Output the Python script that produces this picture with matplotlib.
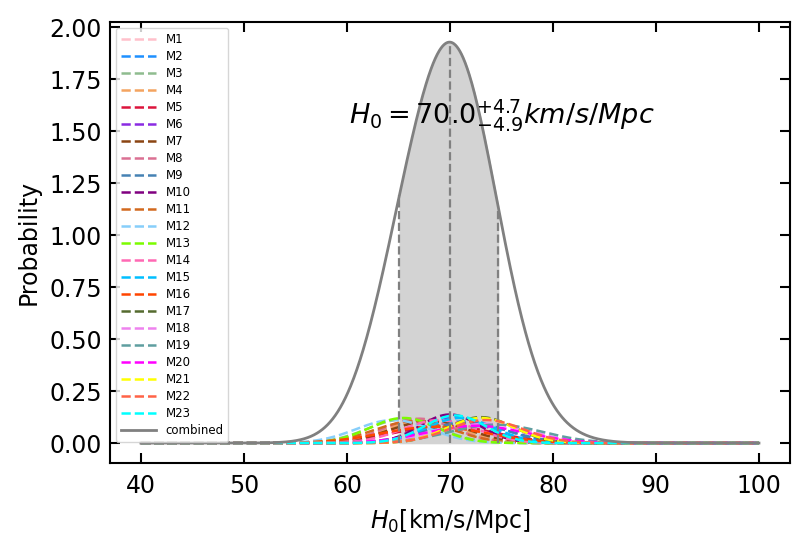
import numpy as np
import matplotlib
matplotlib.use('Agg')
import matplotlib.pyplot as plt

# individual model posteriors (gaussian centre / width)
models = ['M%d' % i for i in range(1, 24)]
mu = [68.5, 71.5, 65.5, 67.5, 69.5, 70.5, 68.0, 67.0, 71.5, 70.0, 66.5, 64.5,
      65.5, 69.0, 71.0, 68.5, 73.0, 73.5, 74.5, 72.5, 73.0, 73.5, 70.5]
sigma = [4.3, 3.8, 3.5, 3.5, 4.8, 3.2, 3.8, 3.4, 4.1, 2.9, 3.8, 3.6,
         3.3, 3.6, 3.3, 5.1, 3.2, 4.3, 4.5, 4.8, 3.3, 3.6, 3.0]
colors = ['pink', 'dodgerblue', 'darkseagreen', 'sandybrown', 'crimson', 'blueviolet',
          'saddlebrown', 'palevioletred', 'steelblue', 'purple', 'chocolate', 'lightskyblue',
          'lawngreen', 'hotpink', 'deepskyblue', 'orangered', 'darkolivegreen', 'violet',
          'cadetblue', 'magenta', 'yellow', 'tomato', 'cyan']

# reported combined result
h0_med = 70.0
h0_up = 4.7
h0_lo = 4.9

plt.rcParams['font.family'] = ['DejaVu Sans']
plt.rcParams['mathtext.fontset'] = 'dejavusans'

x = np.linspace(40, 100, 1200)
fig = plt.figure(figsize=(8.06, 5.52), dpi=100)
ax = fig.add_axes([0.1365, 0.161, 0.8435, 0.799])

combined = np.zeros_like(x)
for name, m, s, c in zip(models, mu, sigma, colors):
    pdf = np.exp(-0.5 * ((x - m) / s) ** 2) / (s * np.sqrt(2 * np.pi))
    combined += pdf
    ax.plot(x, pdf, '--', color=c, lw=1.8, label=name)

ax.plot(x, combined, '-', color='gray', lw=2, label='combined')

lo, hi = h0_med - h0_lo, h0_med + h0_up
ax.fill_between(x, 0, combined, where=(x >= lo) & (x <= hi), color='lightgray', zorder=0)
for xv in [lo, h0_med, hi]:
    ax.vlines(xv, 0, np.interp(xv, x, combined), colors='gray', linestyles='--', lw=1.6)

ax.text(60.2, 1.58, r'$H_0 = %.1f^{+%.1f}_{-%.1f} km/s/Mpc$' % (h0_med, h0_up, h0_lo),
        fontsize=19.5, va='center')

ax.set_xlabel(r'$H_0$[km/s/Mpc]', fontsize=17, labelpad=6)
ax.set_ylabel('Probability', fontsize=17, labelpad=6)
ax.set_yticks(np.arange(0, 2.01, 0.25))
ax.tick_params(direction='in', top=True, right=True, length=7, width=1.5, labelsize=17)
ax.tick_params(axis='x', pad=8)
ax.tick_params(axis='y', pad=6)
for sp in ax.spines.values():
    sp.set_linewidth(1.5)

ax.legend(loc='upper left', fontsize=8.5, handlelength=3.0, labelspacing=0.34)

plt.savefig('out.png', dpi=100)
plt.close()
